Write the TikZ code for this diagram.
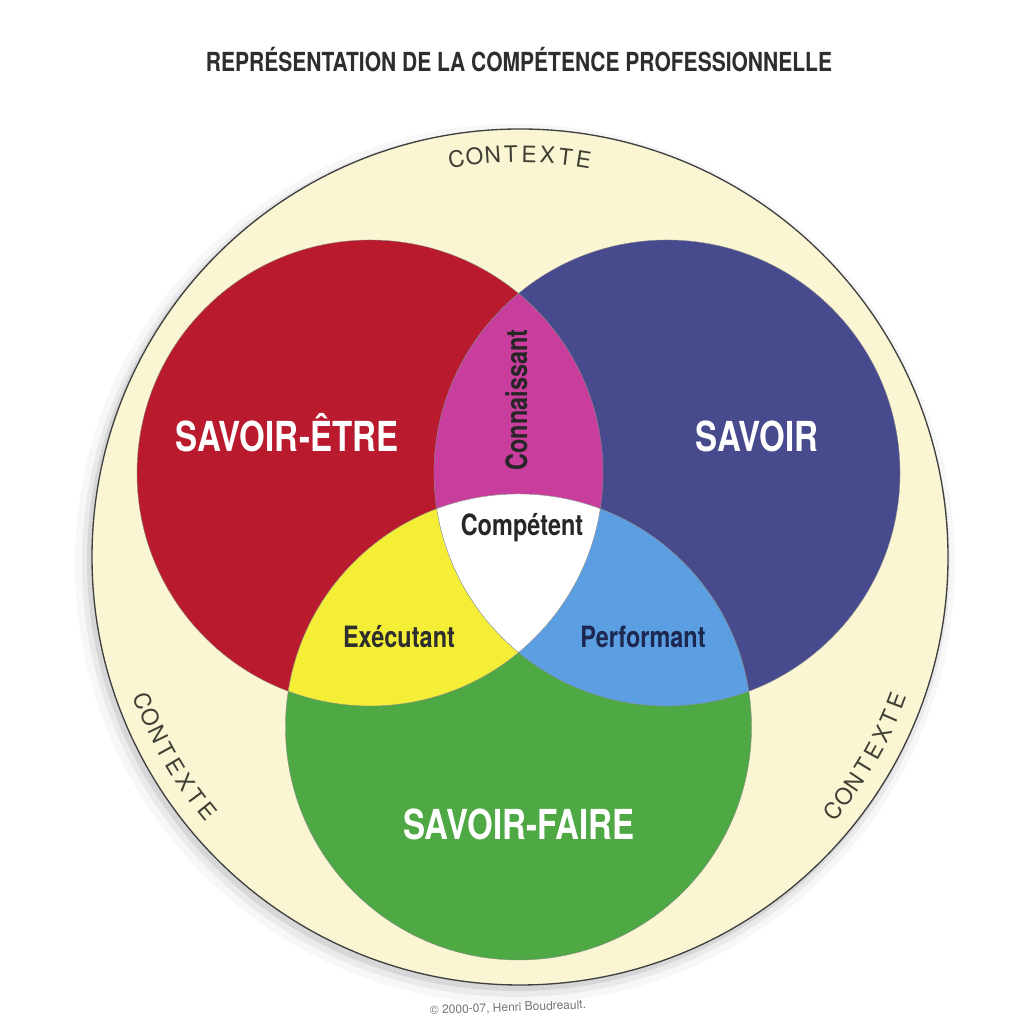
\documentclass[tikz,border=0pt]{standalone}
\usepackage{fontspec}
\setmainfont{TeX Gyre Heros}
\newfontfamily\cond[FakeStretch=0.8]{TeX Gyre Heros}
\usetikzlibrary{calc}
\definecolor{cream}{HTML}{FAF6D4}
\definecolor{vred}{HTML}{BA1A2E}
\definecolor{vblue}{HTML}{484A8E}
\definecolor{vgreen}{HTML}{4EA843}
\definecolor{vmag}{HTML}{C93D9C}
\definecolor{vyel}{HTML}{F4EE36}
\definecolor{vlb}{HTML}{5B9EE2}
\definecolor{ctxcol}{HTML}{3F3F34}
\tikzset{
  ctx/.style={font=\fontsize{17}{18}\selectfont, text=ctxcol, inner sep=0pt, anchor=center},
  biglab/.style={font=\cond\bfseries\fontsize{31}{33}\selectfont, text=white, inner sep=0pt, anchor=base},
  smalllab/.style={font=\cond\bfseries\fontsize{22}{24}\selectfont, inner sep=0pt, anchor=base},
  venn/.style={draw=black!45, line width=0.3pt}
}
\begin{document}
\begin{tikzpicture}[x=0.75pt,y=0.75pt]
\useasboundingbox (0,0) rectangle (1009,1019);
\fill[white] (0,0) rectangle (1009,1019);
\coordinate (O) at (520,462);
\coordinate (R) at (370,546);
\coordinate (B) at (667,546);
\coordinate (G) at (518.5,292);
% shadow
\fill[black,opacity=0.03] (515,455) circle[radius=440];
\fill[black,opacity=0.05] (516,456) circle[radius=434];
\fill[black,opacity=0.08] (517,458) circle[radius=430];
% context disc
\fill[cream] (O) circle[radius=428];
\draw[black!75, line width=1pt] (O) circle[radius=428];
% three circles
\fill[vred] (R) circle[radius=233];
\fill[vblue] (B) circle[radius=233];
\fill[vgreen] (G) circle[radius=233];
\begin{scope}\clip (R) circle[radius=233]; \fill[vmag] (B) circle[radius=233];\end{scope}
\begin{scope}\clip (R) circle[radius=233]; \fill[vyel] (G) circle[radius=233];\end{scope}
\begin{scope}\clip (B) circle[radius=233]; \fill[vlb] (G) circle[radius=233];\end{scope}
\begin{scope}\clip (R) circle[radius=233]; \clip (B) circle[radius=233]; \fill[white] (G) circle[radius=233];\end{scope}
\draw[venn] (R) circle[radius=233];
\draw[venn] (B) circle[radius=233];
\draw[venn] (G) circle[radius=233];
% title
\node[font=\cond\bfseries\fontsize{19.7}{21}\selectfont, text=black!82, inner sep=0pt] (title) at (519,959) {REPRÉSENTATION DE LA COMPÉTENCE PROFESSIONNELLE};
% CONTEXTE along the rim
\foreach \l [count=\i from 0] in {C,O,N,T,E,X,T,E} {
  \pgfmathsetmacro\a{90+(3.5-\i)*2.6}
  \node[ctx, rotate=\a-90] (ctop\i) at ($(O)+(\a:403)$) {\l};
}
\foreach \l [count=\i from 0] in {C,O,N,T,E,X,T,E} {
  \pgfmathsetmacro\a{210-(3.5-\i)*2.6}
  \node[ctx, rotate=\a+90] (cleft\i) at ($(O)+(\a:403)$) {\l};
}
\foreach \l [count=\i from 0] in {C,O,N,T,E,X,T,E} {
  \pgfmathsetmacro\a{330-(3.5-\i)*2.6}
  \node[ctx, rotate=\a+90] (cright\i) at ($(O)+(\a:403)$) {\l};
}
% labels
\node[biglab] (se) at (287,567) {SAVOIR-ÊTRE};
\node[biglab] (sv) at (757,567) {SAVOIR};
\node[biglab] (sf) at (519,179) {SAVOIR-FAIRE};
\node[smalllab, text=black!85, rotate=90] (con) at (527,619) {Connaissant};
\node[smalllab, text=black!85] (comp) at (522,483) {Compétent};
\node[smalllab, text=black!82] (exe) at (399,371) {Exécutant};
\node[smalllab, text={rgb,255:red,28;green,40;blue,80}] (perf) at (643,371) {Performant};
\node[font=\fontsize{9}{10}\selectfont, text=black!55, rotate=2, inner sep=0pt] (copy) at (508,11) {© 2000-07, Henri Boudreault.};
\end{tikzpicture}
\end{document}
